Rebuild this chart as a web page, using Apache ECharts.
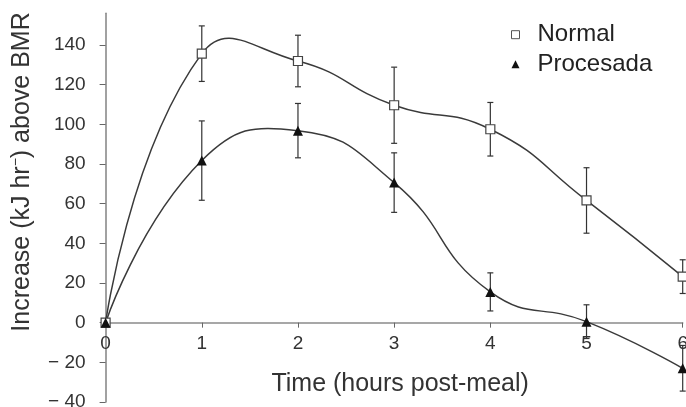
<!DOCTYPE html>
<html>
<head>
<meta charset="utf-8">
<script src="https://cdn.jsdelivr.net/npm/echarts@6/dist/echarts.min.js"></script>
<style>html,body{margin:0;padding:0;background:#fff}#c{width:686px;height:407px}</style>
</head>
<body>
<div id="c"></div>
<script>
// Data
var hours = [0, 1, 2, 3, 4, 5, 6];
var normalValues = [0, 135.6, 131.9, 109.6, 97.5, 61.6, 23.2];
var normalErrors = [0, 14, 13, 19.2, 13.5, 16.5, 8.5];
var procesadaValues = [0, 81.7, 96.8, 70.6, 15.5, 0.5, -23];
var procesadaErrors = [0, 20, 13.7, 15, 9.6, 8.5, 11.5];
var yTickValues = [-40, -20, 0, 20, 40, 60, 80, 100, 120, 140];
var xTickValues = [0, 1, 2, 3, 4, 5, 6];
var seriesNames = ['Normal', 'Procesada'];

var FONT = "'Liberation Sans', Arial, sans-serif";
var W = 686, H = 407;
var GRID = {left: 105.6, right: 3.3, top: 13.2, bottom: 5};
var Y_MIN = -40, Y_MAX = 156;
// place the x axis on the zero line (with its labels right under it)
var zeroOffset = -(H - GRID.top - GRID.bottom) * (0 - Y_MIN) / (Y_MAX - Y_MIN);

var chart = echarts.init(document.getElementById('c'), null, {renderer: 'canvas'});

function pairs(xs, ys) { return xs.map(function (x, i) { return [x, ys[i]]; }); }
function triples(xs, ys, es) { return xs.map(function (x, i) { return [x, ys[i], es[i]]; }); }

function errorBar(params, api) {
  var x = api.value(0), y = api.value(1), e = api.value(2);
  if (!e) return null;
  var top = api.coord([x, y + e]);
  var bot = api.coord([x, y - e]);
  var w = 3;
  var style = {stroke: '#333', lineWidth: 1.2};
  return {
    type: 'group',
    children: [
      {type: 'line', shape: {x1: top[0], y1: top[1], x2: bot[0], y2: bot[1]}, style: style},
      {type: 'line', shape: {x1: top[0] - w, y1: top[1], x2: top[0] + w, y2: top[1]}, style: style},
      {type: 'line', shape: {x1: bot[0] - w, y1: bot[1], x2: bot[0] + w, y2: bot[1]}, style: style}
    ]
  };
}

// Smoothed spline segment between consecutive data points (spreadsheet-style curve, may overshoot)
var SMOOTH = 0.5;
function dist(a, b) { return Math.sqrt((a[0] - b[0]) * (a[0] - b[0]) + (a[1] - b[1]) * (a[1] - b[1])); }
function ctrl(prev, p, next, after) {
  if (!prev || !next) return p.slice();
  var vx = (next[0] - prev[0]) * SMOOTH, vy = (next[1] - prev[1]) * SMOOTH;
  var d0 = dist(p, prev), d1 = dist(p, next), sum = d0 + d1;
  if (sum === 0) return p.slice();
  var r = after ? d1 / sum : -d0 / sum;
  return [p[0] + vx * r, p[1] + vy * r];
}
function curveSegment(params, api) {
  var i = params.dataIndexInside, n = params.dataInsideLength;
  if (i >= n - 1) return null;
  function pt(k) {
    if (k < 0 || k > n - 1) return null;
    return api.coord([api.value(0, k), api.value(1, k)]);
  }
  var p0 = pt(i - 1), p1 = pt(i), p2 = pt(i + 1), p3 = pt(i + 2);
  var c1 = ctrl(p0, p1, p2, true);
  var c2 = ctrl(p1, p2, p3, false);
  return {
    type: 'bezierCurve',
    shape: {x1: p1[0], y1: p1[1], x2: p2[0], y2: p2[1], cpx1: c1[0], cpy1: c1[1], cpx2: c2[0], cpy2: c2[1]},
    style: {stroke: '#3a3a3a', lineWidth: 1.5, fill: null}
  };
}

var option = {
  animation: false,
  backgroundColor: '#fff',
  grid: {left: GRID.left, right: GRID.right, top: GRID.top, bottom: GRID.bottom, containLabel: false, outerBoundsMode: 'none'},
  xAxis: {
    type: 'value', min: 0, max: 6, interval: 1,
    position: 'bottom', offset: zeroOffset,
    axisLine: {onZero: false, lineStyle: {color: '#8a8a8a', width: 1.6}},
    axisTick: {show: true, length: 5, lineStyle: {color: '#666', width: 1}},
    axisLabel: {
      margin: 12, color: '#333', fontSize: 19, fontFamily: FONT,
      customValues: xTickValues
    },
    splitLine: {show: false},
    name: 'Time (hours post-meal)', nameLocation: 'middle', nameGap: 49,
    nameTextStyle: {color: '#333', fontSize: 25, fontFamily: FONT, padding: [0, 0, 0, 12]}
  },
  yAxis: {
    type: 'value', min: Y_MIN, max: Y_MAX, interval: 20,
    axisLine: {show: true, onZero: false, lineStyle: {color: '#8a8a8a', width: 1.6}},
    axisTick: {show: true, length: 6, lineStyle: {color: '#666', width: 1}, customValues: yTickValues},
    axisLabel: {
      margin: 20, color: '#333', fontSize: 19, fontFamily: FONT,
      customValues: yTickValues,
      formatter: function (v) { return v < 0 ? '\u2212 ' + Math.abs(v) : String(v); }
    },
    splitLine: {show: false}
  },
  legend: {
    orient: 'vertical', left: 511, top: 22.7, padding: 0, itemGap: 5.5,
    itemWidth: 8, itemHeight: 8,
    textStyle: {color: '#222', fontSize: 24, fontFamily: FONT, padding: [0, 0, 0, 13]},
    data: [
      {name: seriesNames[0], icon: 'rect', itemStyle: {color: '#fff', borderColor: '#555', borderWidth: 1}},
      {name: seriesNames[1], icon: 'triangle', itemStyle: {color: '#111', borderWidth: 0}}
    ]
  },
  graphic: [{
    type: 'text', x: 22, y: 172, rotation: Math.PI / 2,
    style: {
      text: 'Increase (kJ hr{sup|\u2212}) above BMR',
      font: '25px ' + FONT, fill: '#333', align: 'center', verticalAlign: 'middle',
      rich: {sup: {fontSize: 14, fontFamily: FONT, fill: '#333', verticalAlign: 'top', padding: [0, 0, 9, 0]}}
    }
  }],
  series: [
    {
      type: 'custom', name: 'curveN', renderItem: curveSegment, z: 2, silent: true,
      data: pairs(hours, normalValues), encode: {x: 0, y: 1}
    },
    {
      type: 'custom', name: 'curveP', renderItem: curveSegment, z: 2, silent: true,
      data: pairs(hours, procesadaValues), encode: {x: 0, y: 1}
    },
    {
      type: 'custom', name: 'errN', renderItem: errorBar, z: 3, silent: true,
      data: triples(hours, normalValues, normalErrors), encode: {x: 0, y: 1}
    },
    {
      type: 'custom', name: 'errP', renderItem: errorBar, z: 3, silent: true,
      data: triples(hours, procesadaValues, procesadaErrors), encode: {x: 0, y: 1}
    },
    {
      name: seriesNames[0], type: 'scatter', z: 4,
      data: pairs(hours, normalValues),
      symbol: 'rect', symbolSize: 9,
      itemStyle: {color: '#fff', borderColor: '#444', borderWidth: 1.2, opacity: 1}
    },
    {
      name: seriesNames[1], type: 'scatter', z: 4,
      data: pairs(hours, procesadaValues),
      symbol: 'triangle', symbolSize: 10,
      itemStyle: {color: '#111', borderWidth: 0, opacity: 1}
    }
  ]
};
chart.setOption(option);
</script>
</body>
</html>
